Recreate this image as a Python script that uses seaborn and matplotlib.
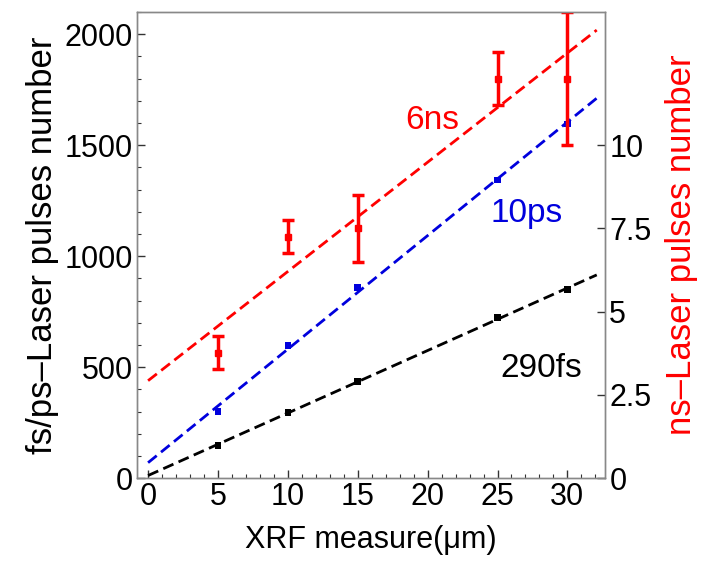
import numpy as np
import pandas as pd
import matplotlib
matplotlib.use("Agg")
import matplotlib.pyplot as plt
from matplotlib.ticker import MultipleLocator, FuncFormatter
import seaborn as sns

# XRF thickness (um)
xrf = [5, 10, 15, 25, 30]
# fs / ps pulse numbers (left axis)
fs_290 = [148, 297, 436, 724, 849]
ps_10 = [301, 598, 858, 1344, 1596]
# ns pulse numbers (right axis) and error bars
ns_6 = [3.77, 7.25, 7.5, 12.0, 12.0]
ns_6_err = [0.5, 0.5, 1.0, 0.8, 2.0]

sns.set_style("ticks")
plt.rcParams['font.family'] = ['Liberation Sans', 'DejaVu Sans']
plt.rcParams.update({"text.color": "black", "axes.labelcolor": "black",
                     "xtick.color": "#333333", "ytick.color": "#333333",
                     "xtick.labelcolor": "black", "ytick.labelcolor": "black"})

df = pd.DataFrame({"xrf": xrf, "fs": fs_290, "ps": ps_10, "ns": ns_6, "err": ns_6_err})

fig = plt.figure(figsize=(7.02, 5.68), dpi=100)
ax = fig.add_axes([0.195, 0.158, 0.667, 0.821])
ax2 = ax.twinx()

fit_x = np.array([0, 32.1])
dash = (4, 2)

# 290fs
k, b = np.polyfit(df["xrf"], df["fs"], 1)
ax.plot(fit_x, k * fit_x + b, color="black", lw=2, dashes=dash)
sns.scatterplot(data=df, x="xrf", y="fs", ax=ax, color="black", marker="s", s=22, edgecolor="none")

# 10ps
k, b = np.polyfit(df["xrf"], df["ps"], 1)
ax.plot(fit_x, k * fit_x + b, color="#0000dd", lw=2, dashes=dash)
sns.scatterplot(data=df, x="xrf", y="ps", ax=ax, color="#0000dd", marker="s", s=22, edgecolor="none")

# 6ns on right axis
k, b = np.polyfit(df["xrf"], df["ns"], 1)
ax2.plot(fit_x, k * fit_x + b, color="#ff0000", lw=2, dashes=dash)
ax2.errorbar(df["xrf"], df["ns"], yerr=df["err"], fmt="s", color="#ff0000", ms=5,
             elinewidth=2.5, capsize=4, capthick=2.5)

ax.set_xlim(-0.8, 32.7)
ax.set_ylim(0, 2100)
ax2.set_ylim(0, 14)

ax.set_xticks([0, 5, 10, 15, 20, 25, 30])
ax.xaxis.set_minor_locator(MultipleLocator(1))
ax.set_yticks([0, 500, 1000, 1500, 2000])
ax.yaxis.set_minor_locator(MultipleLocator(100))
ax2.set_yticks([0, 2.5, 5, 7.5, 10])
ax2.yaxis.set_major_formatter(FuncFormatter(lambda v, p: "%g" % v))

ax.tick_params(axis="both", which="major", direction="in", length=6, labelsize=22, width=1, pad=3)
ax.tick_params(axis="both", which="minor", direction="in", length=3, width=0.8)
ax.tick_params(axis="x", which="both", top=False)
ax2.tick_params(axis="y", direction="in", length=6, labelsize=22, width=1, pad=3)

for a in (ax, ax2):
    for sp in a.spines.values():
        sp.set_visible(True)
        sp.set_color("#888888")
        sp.set_linewidth(1)

ax.set_xlabel("XRF measure(μm)", fontsize=22, labelpad=9)
ax.set_ylabel("fs/ps\u2013Laser pulses number", fontsize=25, labelpad=4)
ax2.set_ylabel("ns\u2013Laser pulses number", fontsize=25, color="#ff0000", labelpad=10)

ax.text(20.3, 1609, "6ns", color="#ff0000", fontsize=24, ha="center", va="center")
ax.text(27.1, 1191, "10ps", color="#0000dd", fontsize=24, ha="center", va="center")
ax.text(28.1, 494, "290fs", color="black", fontsize=24, ha="center", va="center")

fig.savefig("out.png", dpi=100)
